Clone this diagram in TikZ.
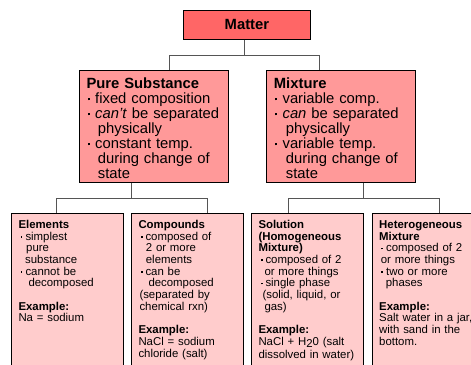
\documentclass[tikz,border=0pt]{standalone}
\usepackage{fontspec}
\setmainfont{Liberation Sans}
\usetikzlibrary{calc}
\definecolor{cMatter}{HTML}{FF6666}
\definecolor{cMid}{HTML}{FF9999}
\definecolor{cLow}{HTML}{FFCCCC}
\definecolor{cLine}{HTML}{555555}
\newcommand\bua{\makebox[8.7pt][l]{\hspace*{1.2pt}\rule[3.4pt]{2.2pt}{2.2pt}}}
\newcommand\bub{\makebox[7pt][l]{\hspace*{2.2pt}\rule[2.4pt]{1.8pt}{1.8pt}}}
\begin{document}
\begin{tikzpicture}[x=1pt,y=-1pt,
  box/.style={draw=black, line width=0.8pt, anchor=north west, inner sep=0pt},
  topbox/.style={box, fill=cMid, minimum width=149pt, minimum height=112pt},
  lowbox/.style={box, fill=cLow, minimum width=112pt, minimum height=175pt},
  toptxt/.style={anchor=base west, inner sep=0pt, text width=150pt, align=left, font=\fontsize{14.8}{15}\selectfont},
  lowtxt/.style={anchor=base west, inner sep=0pt, text width=110pt, align=left, font=\fontsize{11.4}{11.7}\selectfont},
  conn/.style={draw=cLine, line width=1pt}]
\useasboundingbox (0,0) rectangle (471,364);
\clip (0,0) rectangle (471,364);

% boxes
\node[box, fill=cMatter, minimum width=127pt, minimum height=29pt,
      font=\fontsize{14.8}{15}\selectfont\bfseries] (matter) at (183,10) {Matter};
\node[topbox] (ps) at (79,70) {};
\node[topbox] (mix) at (266,70) {};
\node[lowbox] (el) at (11,213) {};
\node[lowbox] (co) at (131,213) {};
\node[lowbox] (so) at (251,213) {};
\node[lowbox] (he) at (372,213) {};

% connectors
\draw[conn] ([xshift=61pt]matter.south west) -- ++(0,16) -| ([xshift=90pt]ps.north west);
\draw[conn] ([xshift=61pt]matter.south west) -- ++(0,16) -| ([xshift=53pt]mix.north west);
\draw[conn] ([xshift=52pt]ps.south west) -- ++(0,16) -| ([xshift=45pt]el.north west);
\draw[conn] ([xshift=52pt]ps.south west) -- ++(0,16) -| ([xshift=76pt]co.north west);
\draw[conn] ([xshift=97pt]mix.south west) -- ++(0,16) -| ([xshift=37pt]so.north west);
\draw[conn] ([xshift=97pt]mix.south west) -- ++(0,16) -| ([xshift=67pt]he.north west);

% texts
\node[toptxt] (pst) at (86.3,88.7) {\textbf{Pure Substance}\\
\bua fixed composition\\
\bua\textit{can’t} be separated\\
\hspace*{11.4pt}physically\\
\bua constant temp.\\
\hspace*{11.4pt}during change of\\
\hspace*{11.4pt}state};

\node[toptxt] (mixt) at (273.7,88.7) {\textbf{Mixture}\\
\bua variable comp.\\
\bua\textit{can} be separated\\
\hspace*{12pt}physically\\
\bua variable temp.\\
\hspace*{12pt}during change of\\
\hspace*{12pt}state};

\node[lowtxt] (elt) at (18.3,228.3) {\textbf{Elements}\\
\bub simplest\\
\hspace*{7.7pt}pure\\
\hspace*{6.7pt}substance\\
\bub cannot be\\
\hspace*{10pt}decomposed\\[11.7pt]
\textbf{Example:}\\
Na = sodium};

\node[lowtxt] (cot) at (138.3,228.3) {\textbf{Compounds}\\
\bub composed of\\
\hspace*{7.4pt}2 or more\\
\hspace*{7.4pt}elements\\
\bub can be\\
\hspace*{10pt}decomposed\\
\hspace*{1pt}(separated by\\
\hspace*{1pt}chemical rxn)\\[11.7pt]
\textbf{Example:}\\
NaCl = sodium\\
chloride (salt)};

\node[lowtxt] (sot) at (258.3,228.3) {\textbf{Solution}\\
\textbf{(Homogeneous}\\
\textbf{Mixture)}\\
\bub composed of 2\\
\hspace*{6pt}or more things\\
\bub single phase\\
\hspace*{4pt}(solid, liquid, or\\
\hspace*{6pt}gas)\\[11.7pt]
\textbf{Example:}\\
NaCl + H\raisebox{-2pt}{2}0 (salt\\[1.5pt]
dissolved in water)};

\node[lowtxt] (het) at (379,228.3) {\textbf{Heterogeneous}\\
\textbf{Mixture}\\
\bub composed of 2\\
\hspace*{1.7pt}or more things\\
\bub two or more\\
\hspace*{6.7pt}phases\\[11.7pt]
\textbf{Example:}\\
Salt water in a jar,\\
with sand in the\\
bottom.};
\end{tikzpicture}
\end{document}
